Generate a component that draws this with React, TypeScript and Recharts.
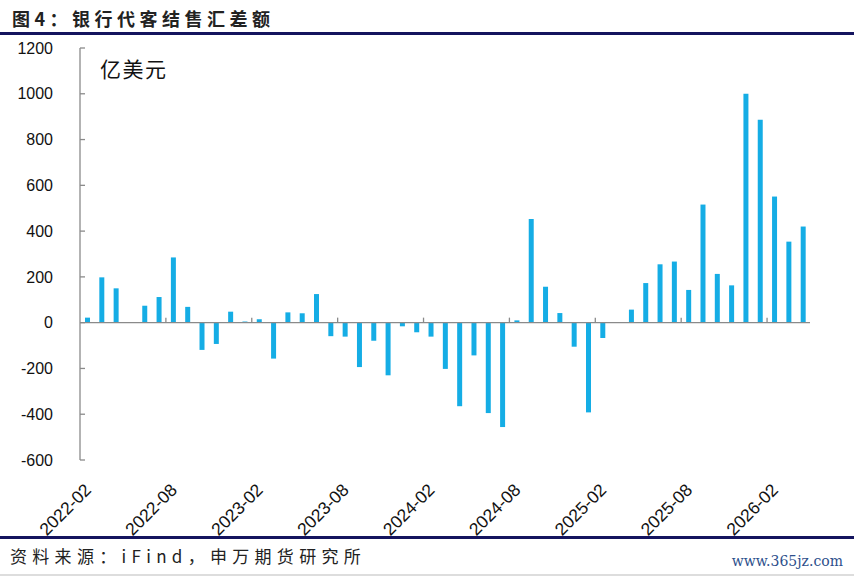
import React from "react";
import {
  BarChart,
  Bar,
  XAxis,
  YAxis,
  ReferenceLine,
} from "recharts";

const MONTHS = [
  "2022-02", "2022-03", "2022-04", "2022-05", "2022-06", "2022-07",
  "2022-08", "2022-09", "2022-10", "2022-11", "2022-12", "2023-01",
  "2023-02", "2023-03", "2023-04", "2023-05", "2023-06", "2023-07",
  "2023-08", "2023-09", "2023-10", "2023-11", "2023-12", "2024-01",
  "2024-02", "2024-03", "2024-04", "2024-05", "2024-06", "2024-07",
  "2024-08", "2024-09", "2024-10", "2024-11", "2024-12", "2025-01",
  "2025-02", "2025-03", "2025-04", "2025-05", "2025-06", "2025-07",
  "2025-08", "2025-09", "2025-10", "2025-11", "2025-12", "2026-01",
  "2026-02", "2026-03", "2026-04",
];

// 银行代客结售汇差额，亿美元
const NET_FX = [
  22, 198, 150, null, 74, 112,
  285, 69, -119, -93, 48, 5,
  15, -157, 45, 41, 125, -59,
  -61, -194, -79, -230, -16, -42,
  -61, -202, -365, -143, -395, -456,
  10, 453, 157, 42, -105, -392,
  -67, null, 57, 173, 255, 267,
  143, 516, 213, 163, 1000, 887,
  551, 354, 420,
];

const TICK_LABELS = [
  "2022-02", "2022-08", "2023-02", "2023-08", "2024-02",
  "2024-08", "2025-02", "2025-08", "2026-02",
];

const Y_TICKS = [-600, -400, -200, 0, 200, 400, 600, 800, 1000, 1200];

const BAR_COLOR = "#15ADE5";
const AXIS_COLOR = "#8a8a8a";
const NAVY = "#14145e";
const NUM_FONT = "'Liberation Sans', Arial, sans-serif";
const CJK_FONT = "'Noto Sans CJK SC', 'Noto Sans', sans-serif";

const data = MONTHS.map((m, i) => ({ i, month: m, value: NET_FX[i] }));
const tickIdx = TICK_LABELS.map((l) => MONTHS.indexOf(l));

const MonthTick = ({ x, y, payload }: any) => (
  <g transform={`translate(${x + 5},${y + 23})`}>
    <text
      transform="rotate(-45)"
      textAnchor="end"
      fontSize={17.5}
      fontFamily={NUM_FONT}
      fill="#111"
    >
      {MONTHS[payload.value]}
    </text>
  </g>
);

export default function App() {
  return (
    <div
      style={{
        position: "absolute",
        left: 0,
        top: 0,
        width: 854,
        height: 576,
        background: "#fff",
        overflow: "hidden",
      }}
    >
      <div
        style={{
          position: "absolute",
          left: 12,
          top: 5,
          fontFamily: CJK_FONT,
          fontSize: 18,
          fontWeight: 700,
          letterSpacing: 4.5,
          color: "#222",
        }}
      >
        图4：银行代客结售汇差额
      </div>
      <div
        style={{
          position: "absolute",
          left: 0,
          top: 32,
          width: 854,
          height: 3,
          background: NAVY,
        }}
      />

      <div style={{ position: "absolute", left: 0, top: 0 }}>
        <BarChart
          width={854}
          height={540}
          data={data}
          margin={{ top: 48, right: 44, bottom: 10, left: 8 }}
        >
          <XAxis
            type="number"
            dataKey="i"
            domain={[-0.5, MONTHS.length - 0.5]}
            ticks={tickIdx}
            interval={0}
            axisLine={false}
            tickLine={false}
            height={70}
            tick={<MonthTick />}
          />
          <YAxis
            type="number"
            domain={[-600, 1200]}
            ticks={Y_TICKS}
            interval={0}
            width={72}
            axisLine={{ stroke: AXIS_COLOR, strokeWidth: 1.3 }}
            tickLine={{ stroke: AXIS_COLOR, strokeWidth: 1.3 }}
            tickSize={-5}
            tickMargin={32}
            tick={{ fontSize: 16, fill: "#111", fontFamily: NUM_FONT }}
          />
          <ReferenceLine y={0} stroke={AXIS_COLOR} strokeWidth={1.3} />
          {tickIdx.slice(1).map((t) => (
            <ReferenceLine
              key={t}
              segment={[
                { x: t - 0.5, y: 0 },
                { x: t - 0.5, y: 22 },
              ]}
              stroke={AXIS_COLOR}
              strokeWidth={1.3}
            />
          ))}
          <Bar
            dataKey="value"
            fill={BAR_COLOR}
            barSize={5}
            isAnimationActive={false}
          />
        </BarChart>
      </div>

      <div
        style={{
          position: "absolute",
          left: 100,
          top: 53,
          fontFamily: CJK_FONT,
          fontSize: 21,
          letterSpacing: 1.5,
          color: "#111",
        }}
      >
        亿美元
      </div>

      <div
        style={{
          position: "absolute",
          left: 0,
          top: 536,
          width: 854,
          height: 3,
          background: NAVY,
        }}
      />
      <div
        style={{
          position: "absolute",
          left: 10,
          top: 543,
          fontFamily: CJK_FONT,
          fontSize: 17,
          letterSpacing: 5.3,
          color: "#222",
        }}
      >
        资料来源：iFind，申万期货研究所
      </div>
      <div
        style={{
          position: "absolute",
          right: 11,
          top: 553,
          fontFamily: "'DejaVu Serif', serif",
          fontSize: 14,
          color: "#2d4f8c",
        }}
      >
        www.365jz.com
      </div>
      <div
        style={{
          position: "absolute",
          left: 0,
          top: 574,
          width: 854,
          height: 2,
          background: "#ddd",
        }}
      />
    </div>
  );
}
